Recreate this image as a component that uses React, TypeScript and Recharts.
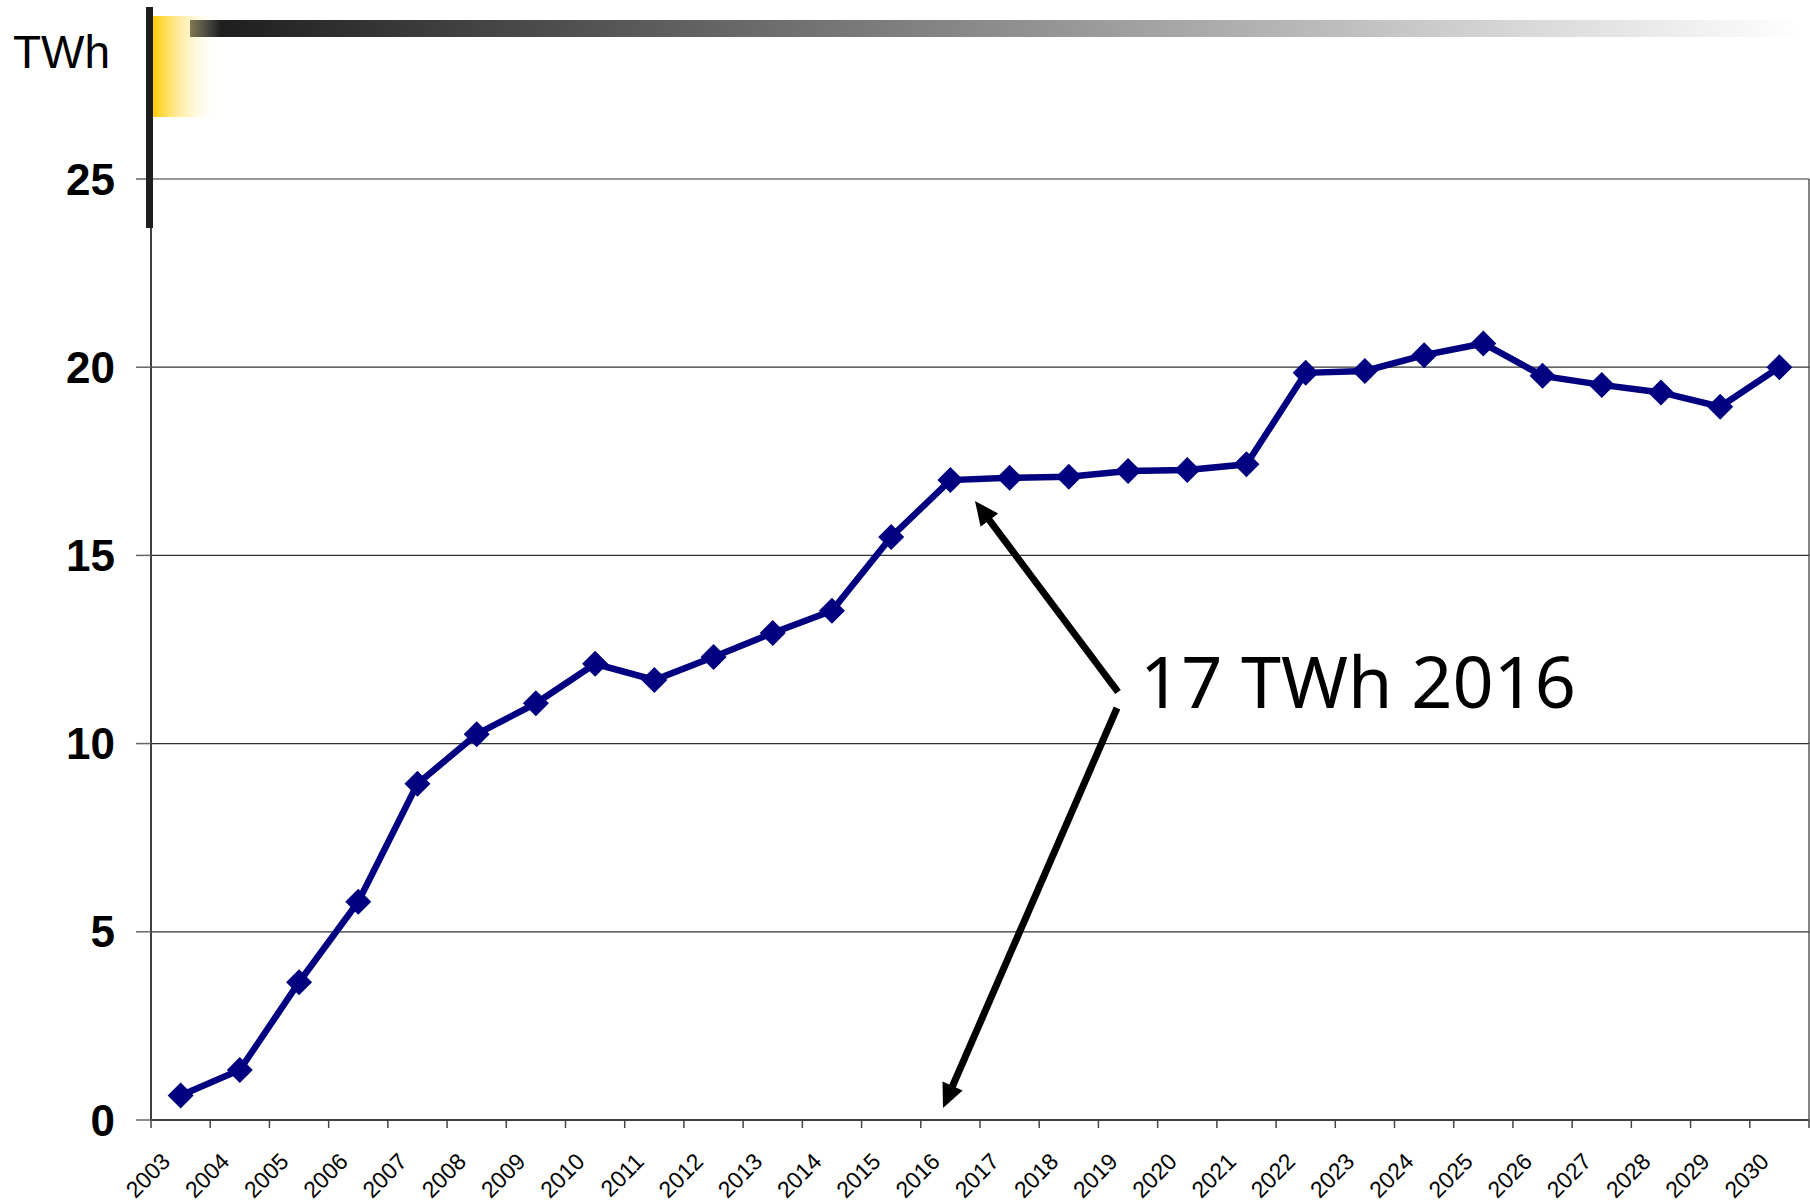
import React from "react";
import { ComposedChart, Line, XAxis, YAxis, CartesianGrid } from "recharts";

const years = [
  "2003", "2004", "2005", "2006", "2007", "2008", "2009", "2010", "2011", "2012",
  "2013", "2014", "2015", "2016", "2017", "2018", "2019", "2020", "2021", "2022",
  "2023", "2024", "2025", "2026", "2027", "2028", "2029", "2030",
];
const twh = [
  0.65, 1.33, 3.66, 5.8, 8.93, 10.25, 11.07, 12.12, 11.69, 12.3,
  12.94, 13.53, 15.49, 17.0, 17.06, 17.09, 17.24, 17.27, 17.42, 19.85,
  19.9, 20.32, 20.63, 19.77, 19.53, 19.33, 18.95, 20.0,
];
const yTicks = [0, 5, 10, 15, 20, 25];
const unitLabel = "TWh";
const noteText = "17 TWh 2016";

const W = 1810;
const H = 1204;
const PLOT_LEFT = 151;
const PLOT_RIGHT = 1809;
const PLOT_TOP = 179;
const PLOT_BOTTOM = 1120;
const BAND = (PLOT_RIGHT - PLOT_LEFT) / years.length;

const data = years.map((year, i) => ({ year, value: twh[i] }));

// rotated year labels, tick marks sit on the category boundaries
function YearTick(props: any) {
  const { x, y, payload, index } = props;
  const left = x - BAND / 2;
  const ax = x - 9;
  const ay = y + 43;
  return (
    <g>
      <line x1={left} x2={left} y1={y} y2={y + 8} stroke="#444" strokeWidth={1.5} />
      {index === years.length - 1 && (
        <line x1={x + BAND / 2} x2={x + BAND / 2} y1={y} y2={y + 8} stroke="#444" strokeWidth={1.5} />
      )}
      <text
        x={ax}
        y={ay}
        transform={`rotate(-45 ${ax} ${ay})`}
        textAnchor="end"
        fontSize={23}
        fontFamily="'Liberation Sans', Arial, sans-serif"
        fill="#000"
      >
        {payload.value}
      </text>
    </g>
  );
}

function Diamond(props: any) {
  const { cx, cy, index } = props;
  if (cx == null || cy == null) return <g key={`d-${index}`} />;
  const r = 13;
  return (
    <polygon
      key={`d-${index}`}
      points={`${cx},${cy - r} ${cx + r},${cy} ${cx},${cy + r} ${cx - r},${cy}`}
      fill="#000080"
    />
  );
}

function Arrow({ x1, y1, x2, y2 }: { x1: number; y1: number; x2: number; y2: number }) {
  const dx = x2 - x1;
  const dy = y2 - y1;
  const len = Math.hypot(dx, dy);
  const ux = dx / len;
  const uy = dy / len;
  const head = 24;
  const half = 11;
  const bx = x2 - ux * head;
  const by = y2 - uy * head;
  const nx = -uy;
  const ny = ux;
  return (
    <g>
      <line x1={x1} y1={y1} x2={x2 - ux * 18} y2={y2 - uy * 18} stroke="#000" strokeWidth={7} />
      <polygon
        points={`${x2},${y2} ${bx + nx * half},${by + ny * half} ${bx - nx * half},${by - ny * half}`}
        fill="#000"
      />
    </g>
  );
}

export default function App() {
  return (
    <div style={{ position: "absolute", left: 0, top: 0, width: W, height: H, background: "#fff" }}>
      <ComposedChart
        width={W}
        height={H}
        data={data}
        margin={{ top: PLOT_TOP, right: W - PLOT_RIGHT, bottom: 0, left: 0 }}
      >
        <CartesianGrid
          stroke="#333"
          strokeWidth={1.2}
          verticalCoordinatesGenerator={({ offset }: any) => [offset.left + offset.width]}
        />
        <XAxis
          dataKey="year"
          height={H - PLOT_BOTTOM}
          interval={0}
          padding={{ left: BAND / 2, right: BAND / 2 }}
          tickSize={0}
          tickMargin={0}
          tickLine={false}
          axisLine={{ stroke: "#404040", strokeWidth: 2 }}
          tick={<YearTick />}
        />
        <YAxis
          width={PLOT_LEFT}
          domain={[0, 25]}
          ticks={yTicks}
          interval={0}
          tickSize={15}
          tickMargin={21}
          axisLine={{ stroke: "#404040", strokeWidth: 2 }}
          tickLine={{ stroke: "#666", strokeWidth: 1.5 }}
          tick={{
            fontSize: 44,
            fontWeight: 700,
            fill: "#000",
            fontFamily: "'Liberation Sans', Arial, sans-serif",
          }}
        />
        <Line
          dataKey="value"
          stroke="#000080"
          strokeWidth={6.5}
          dot={Diamond}
          activeDot={false}
          isAnimationActive={false}
        />
      </ComposedChart>

      <svg
        width={W}
        height={H}
        style={{ position: "absolute", left: 0, top: 0, pointerEvents: "none" }}
      >
        <defs>
          <linearGradient id="barFade" x1="0" x2="1" y1="0" y2="0">
            <stop offset="0" stopColor="#1a1a1a" />
            <stop offset="1" stopColor="#ffffff" />
          </linearGradient>
          <linearGradient id="yellowFade" x1="0" x2="1" y1="0" y2="0">
            <stop offset="0" stopColor="#ffcc00" />
            <stop offset="1" stopColor="#ffffff" stopOpacity={0} />
          </linearGradient>
        </defs>
        <rect x={190} y={20} width={1610} height={17} fill="url(#barFade)" />
        <rect x={153} y={16} width={68} height={101} fill="url(#yellowFade)" />
        <rect x={146} y={7} width={7} height={221} fill="#1e1e1e" />
        <text
          x={13}
          y={68}
          fontSize={46}
          fontFamily="'Liberation Sans', Arial, sans-serif"
          fill="#000"
        >
          {unitLabel}
        </text>
        <Arrow x1={1118} y1={692} x2={975} y2={501} />
        <Arrow x1={1117} y1={708} x2={943} y2={1108} />
        <text x={1140} y={708} fontSize={72} fontFamily="'Noto Sans', sans-serif" fill="#000">
          {noteText}
        </text>
      </svg>
    </div>
  );
}
